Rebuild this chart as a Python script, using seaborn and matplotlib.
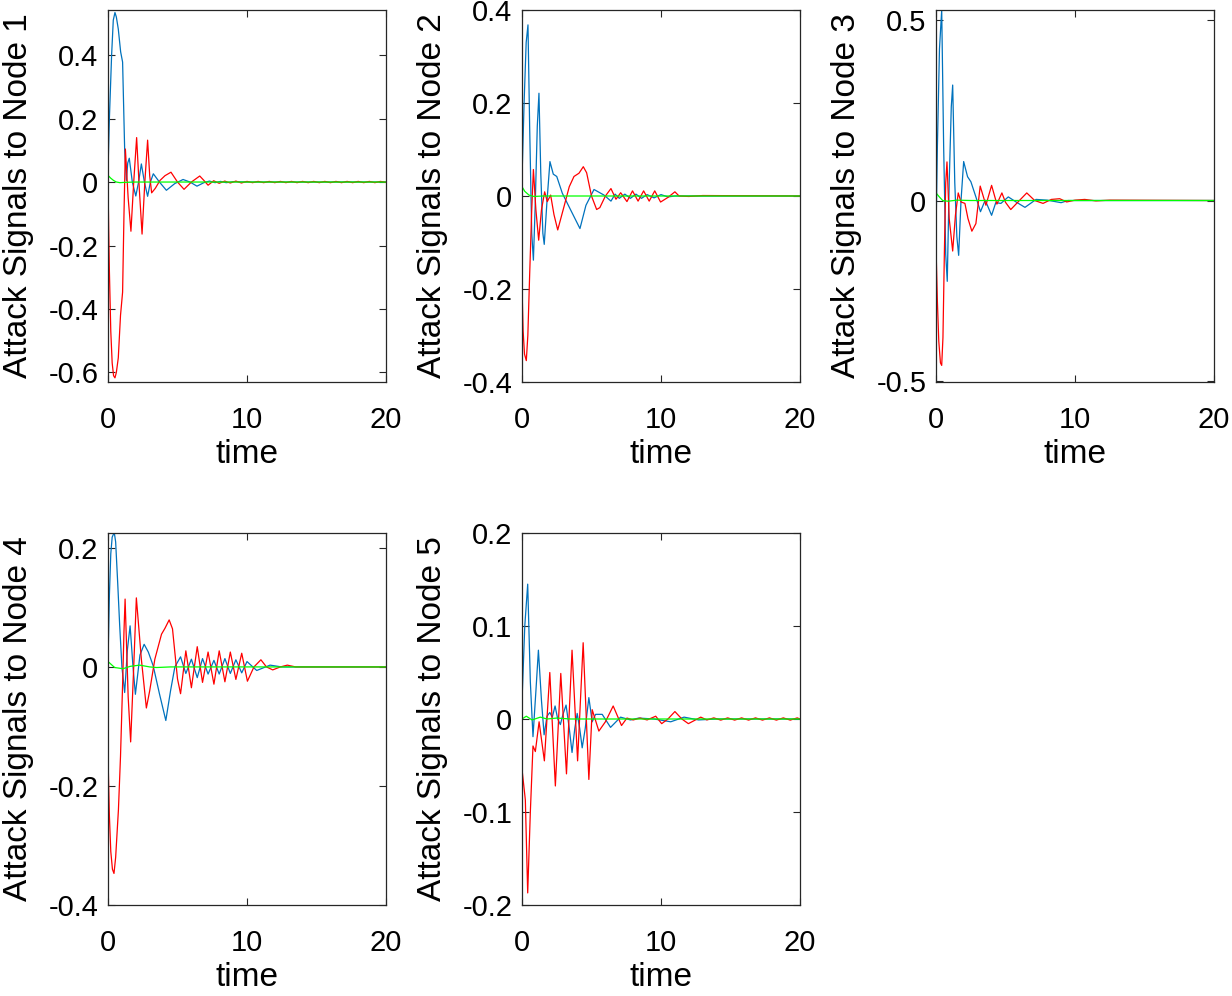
import matplotlib
matplotlib.use("Agg")
import matplotlib.pyplot as plt
import matplotlib.ticker as mticker
import seaborn as sns
import pandas as pd

# node 1
n1_blue_t = [0, 0.1, 0.26, 0.38, 0.5, 0.6, 0.74, 0.91, 1.05, 1.2, 1.32, 1.42, 1.53, 1.75, 2.0, 2.2, 2.4, 2.62, 2.85, 3.05, 3.26, 3.7, 4.2, 4.8, 5.4, 5.9, 6.4, 6.9, 7.3, 7.7, 8.1, 8.5, 9.0, 10, 20]
n1_blue_v = [0.036, 0.2, 0.4, 0.51, 0.534, 0.52, 0.482, 0.41, 0.378, 0.1, 0.005, 0.06, 0.075, 0.0, -0.044, 0.0, 0.057, 0.0, -0.045, 0.0, 0.026, 0.0, -0.026, -0.005, 0.008, 0.0, -0.013, -0.002, 0.003, -0.002, 0.002, -0.002, 0.001, 0, 0]
n1_red_t = [0, 0.05, 0.1, 0.2, 0.3, 0.4, 0.5, 0.6, 0.74, 0.9, 1.05, 1.15, 1.25, 1.45, 1.65, 1.85, 2.06, 2.25, 2.45, 2.65, 2.85, 3.0, 3.14, 3.4, 3.74, 4.1, 4.53, 5.0, 5.47, 6.0, 6.6, 6.9, 7.2, 7.6,
            8.0, 8.4, 8.8, 9.2, 9.6, 10.0, 10.4, 10.8, 11.2, 11.6, 12.0, 12.4, 12.8, 13.2, 13.6, 14.0, 14.4, 14.8, 15.2, 15.6, 16.0, 16.4, 16.8, 17.2, 17.6, 18.0, 18.4, 18.8, 19.2, 19.6, 20.0]
n1_red_v = [0.0, -0.15, -0.28, -0.47, -0.57, -0.61, -0.617, -0.6, -0.554, -0.42, -0.347, -0.1, 0.104, -0.05, -0.155, 0.0, 0.14, -0.02, -0.164, 0.0, 0.132, 0.02, -0.034, -0.02, 0.005, 0.02, 0.031, 0.0, -0.023, 0.0, 0.019, 0.005, -0.01, 0.004,
            -0.004, 0.003, -0.003, 0.003, -0.003, 0.002, -0.002, 0.002, -0.002, 0.002, -0.002, 0.002, -0.002, 0.002, -0.002, 0.002, -0.002, 0.002, -0.002, 0.002, -0.002, 0.002, -0.002, 0.002, -0.002, 0.002, -0.002, 0.002, -0.002, 0.002, -0.001]
n1_green_t = [0, 0.2, 0.4, 0.6, 0.86, 1.2, 2, 20]
n1_green_v = [0.021, 0.012, 0.005, 0.0, -0.002, -0.001, 0.0, 0.0]

# node 2
n2_blue_t = [0, 0.15, 0.3, 0.43, 0.55, 0.7, 0.82, 0.95, 1.1, 1.22, 1.35, 1.5, 1.6, 1.8, 2.01, 2.25, 2.5, 2.9, 3.5, 4.17, 4.6, 5.18, 5.9, 6.4, 6.7, 7.0, 7.4, 7.8, 8.2, 8.6, 9.0, 9.5, 10.0, 10.5, 11.0, 20]
n2_blue_v = [0.038, 0.2, 0.33, 0.368, 0.15, -0.08, -0.138, -0.02, 0.15, 0.221, 0.05, -0.08, -0.104, -0.01, 0.074, 0.047, 0.042, 0.006, -0.03, -0.07, -0.02, 0.014, 0.002, -0.011, 0.004, -0.005, 0.004, -0.005, 0.004, -0.005, 0.003, -0.004, 0.003, -0.002, 0.0, 0.0]
n2_red_t = [0, 0.08, 0.18, 0.31, 0.42, 0.55, 0.7, 0.82, 1.0, 1.2, 1.4, 1.63, 1.82, 2.06, 2.3, 2.57, 3.02, 3.4, 3.74, 4.1, 4.41, 4.65, 5.0, 5.37, 5.6, 6.0, 6.4, 6.76, 7.1, 7.55, 7.95, 8.35, 8.75, 9.15, 9.55, 9.97, 10.5, 11.0, 11.3, 12, 13, 20]
n2_red_v = [-0.196, -0.29, -0.34, -0.354, -0.3, -0.17, -0.03, 0.057, -0.03, -0.095, -0.03, 0.009, -0.012, 0.002, -0.04, -0.073, -0.023, 0.02, 0.042, 0.049, 0.063, 0.05, 0.0, -0.029, -0.025, 0.0, 0.016, -0.007, 0.007, -0.012, 0.011, -0.011, 0.011, -0.011, 0.011, -0.013, -0.003, 0.009, 0.0, -0.001, 0.001, 0.0]
n2_green_t = [0, 0.2, 0.5, 0.86, 1.5, 20]
n2_green_v = [0.02, 0.01, 0.002, -0.001, 0.0, 0.0]

# node 3
n3_blue_t = [0, 0.1, 0.25, 0.41, 0.55, 0.7, 0.81, 0.95, 1.1, 1.2, 1.35, 1.5, 1.63, 1.8, 1.99, 2.27, 2.51, 2.87, 3.2, 3.54, 4.0, 4.3, 4.67, 5.2, 5.8, 6.4, 7.2, 8.0, 9.0, 9.5, 20]
n3_blue_v = [-0.09, 0.15, 0.42, 0.528, 0.15, -0.15, -0.224, 0.05, 0.26, 0.32, 0.05, -0.1, -0.152, 0.0, 0.108, 0.066, 0.052, 0.01, -0.031, 0.001, -0.041, -0.006, -0.008, 0.01, -0.005, -0.019, 0.003, 0.001, -0.006, 0.0, 0.0]
n3_red_t = [0, 0.1, 0.2, 0.32, 0.41, 0.5, 0.6, 0.7, 0.79, 0.95, 1.2, 1.4, 1.6, 1.8, 2.08, 2.3, 2.58, 2.87, 3.18, 3.59, 4.0, 4.38, 4.74, 5.0, 5.38, 6.0, 6.53, 7.1, 7.7, 8.3, 8.9, 9.4, 10.0, 10.7, 11.5, 12.5, 20]
n3_red_v = [-0.128, -0.28, -0.39, -0.45, -0.457, -0.38, -0.15, 0.05, 0.107, -0.05, -0.14, -0.04, 0.021, -0.004, -0.008, -0.05, -0.085, -0.064, 0.04, -0.013, 0.042, -0.01, 0.021, -0.005, -0.025, 0.0, 0.021, 0.0, -0.008, 0.003, 0.005, -0.004, 0.001, 0.003, -0.001, 0.001, 0.0]
n3_green_t = [0, 0.24, 0.48, 0.85, 1.5, 2.5, 20]
n3_green_v = [0.021, 0.01, 0.0, -0.002, 0.001, 0.0, 0.0]

# node 4
n4_blue_t = [0, 0.1, 0.2, 0.3, 0.45, 0.55, 0.7, 0.84, 1.0, 1.2, 1.4, 1.59, 1.8, 1.97, 2.3, 2.6, 2.9, 3.25, 3.7, 4.16, 4.5, 4.81, 5.22, 5.6, 6.0, 6.42, 6.8, 7.2, 7.62, 8.0, 8.41, 8.8, 9.2, 9.62, 10.0, 10.7, 11.66, 12.5, 20]
n4_blue_v = [0.007, 0.12, 0.19, 0.218, 0.226, 0.21, 0.14, 0.07, 0.0, -0.043, 0.03, 0.069, 0.0, -0.046, 0.02, 0.038, 0.025, 0.002, -0.045, -0.09, -0.04, 0.0, 0.017, -0.011, 0.013, -0.018, 0.014, -0.012, 0.011, -0.012, 0.014, -0.011, 0.012, -0.01, 0.009, -0.006, 0.003, 0.0, 0.0]
n4_red_t = [0, 0.1, 0.2, 0.32, 0.43, 0.55, 0.6, 0.75, 0.9, 1.05, 1.15, 1.23, 1.45, 1.63, 1.85, 2.04, 2.4, 2.76, 3.0, 3.37, 3.85, 4.1, 4.4, 4.64, 5.0, 5.22, 5.6, 6.0, 6.42, 6.8, 7.2, 7.62, 8.0, 8.41, 8.8, 9.2, 9.62, 10.03, 10.5, 11.0, 11.4, 11.85, 12.4, 12.9, 13.5, 20]
n4_red_v = [-0.15, -0.25, -0.31, -0.34, -0.347, -0.32, -0.3, -0.24, -0.15, -0.03, 0.06, 0.114, -0.05, -0.126, 0.0, 0.116, 0.013, -0.069, -0.04, 0.013, 0.055, 0.065, 0.079, 0.064, -0.02, -0.045, 0.027, -0.035, 0.034, -0.026, 0.025, -0.029, 0.027, -0.025, 0.025, -0.021, 0.023, -0.024, 0.0, 0.012, 0.0, -0.005, 0.0, 0.003, 0.0, 0.0]
n4_green_t = [0, 0.48, 1.08, 1.6, 2.28, 3.0, 3.5, 4.5, 20]
n4_green_v = [0.009, -0.001, -0.003, 0.001, 0.003, 0.0, -0.001, 0.0, 0.0]

# node 5
n5_blue_t = [0, 0.2, 0.41, 0.6, 0.79, 1.0, 1.18, 1.4, 1.59, 1.8, 2.0, 2.18, 2.38, 2.57, 2.76, 2.95, 3.17, 3.4, 3.6, 3.8, 3.97, 4.15, 4.33, 4.55, 4.81, 5.05, 5.29, 5.77, 6.37, 7.09, 7.8, 8.4, 9.5, 10.7, 11.66, 12.7, 14, 20]
n5_blue_v = [0.019, 0.1, 0.145, 0.04, -0.019, 0.03, 0.074, 0.02, -0.017, 0.003, 0.007, 0.002, 0.014, 0.0, -0.006, 0.005, 0.015, -0.01, -0.036, -0.01, 0.006, -0.01, -0.031, -0.01, 0.023, -0.003, 0.005, 0.005, -0.009, 0.002, -0.001, 0.001, 0.0, -0.003, 0.002, -0.001, 0.0, 0.0]
n5_red_t = [0, 0.24, 0.41, 0.6, 0.79, 0.96, 1.23, 1.61, 2.0, 2.4, 2.79, 3.2, 3.6, 4.0, 4.4, 4.81, 5.05, 5.53, 6.0, 6.56, 7.16, 7.55, 8.0, 8.5, 9.0, 9.62, 10.05, 10.5, 11.0, 11.5, 11.97, 12.86, 13.3,
            13.8, 14.3, 14.8, 15.3, 15.8, 16.3, 16.8, 17.3, 17.8, 18.3, 18.8, 19.3, 19.8, 20]
n5_red_v = [-0.054, -0.087, -0.187, -0.1, -0.029, -0.035, -0.003, -0.045, 0.05, -0.072, 0.049, -0.059, 0.074, -0.045, 0.082, -0.065, 0.01, -0.013, -0.003, 0.014, -0.007, 0.001, -0.001, 0.001, -0.001, 0.003, -0.005, 0.0, 0.008, 0.0, -0.005, 0.002, -0.001,
            0.0012, -0.0012, 0.0012, -0.0012, 0.0012, -0.0012, 0.0012, -0.0012, 0.0012, -0.0012, 0.0012, -0.0012, 0.0012, 0.0]
n5_green_t = [0, 0.31, 0.72, 1.32, 1.8, 2.5, 3.5, 20]
n5_green_v = [0.0, 0.003, -0.001, 0.002, 0.0, 0.001, 0.0, 0.0]

node_labels = ["Attack Signals to Node 1", "Attack Signals to Node 2", "Attack Signals to Node 3",
               "Attack Signals to Node 4", "Attack Signals to Node 5"]
y_limits = [(-0.63, 0.542), (-0.4, 0.4), (-0.503, 0.528), (-0.4, 0.225), (-0.2, 0.2)]
y_ticks = [[-0.6, -0.4, -0.2, 0, 0.2, 0.4], [-0.4, -0.2, 0, 0.2, 0.4], [-0.5, 0, 0.5],
           [-0.4, -0.2, 0, 0.2], [-0.2, -0.1, 0, 0.1, 0.2]]
x_ticks = [0, 10, 20]

curves = [
    [(n1_blue_t, n1_blue_v), (n1_red_t, n1_red_v), (n1_green_t, n1_green_v)],
    [(n2_blue_t, n2_blue_v), (n2_red_t, n2_red_v), (n2_green_t, n2_green_v)],
    [(n3_blue_t, n3_blue_v), (n3_red_t, n3_red_v), (n3_green_t, n3_green_v)],
    [(n4_blue_t, n4_blue_v), (n4_red_t, n4_red_v), (n4_green_t, n4_green_v)],
    [(n5_blue_t, n5_blue_v), (n5_red_t, n5_red_v), (n5_green_t, n5_green_v)],
]
colors = ["#0072BD", "#FF0000", "#00FF00"]

sns.set_style("ticks")
plt.rcParams["font.family"] = ["Liberation Sans", "DejaVu Sans"]
plt.rcParams["axes.unicode_minus"] = False
plt.rcParams["text.color"] = "black"
plt.rcParams["axes.labelcolor"] = "black"

fig = plt.figure(figsize=(12.32, 9.96), dpi=100)
W, H = 1232, 996
# axes boxes in pixels: left, top
boxes = [(108, 10), (522, 10), (936, 10), (108, 533), (522, 533)]
aw, ah = 278, 372

for i, (left, top) in enumerate(boxes):
    ax = fig.add_axes([left / W, (H - top - ah) / H, aw / W, ah / H])
    for (t, v), c in zip(curves[i], colors):
        df = pd.DataFrame({"time": t, "val": v})
        sns.lineplot(data=df, x="time", y="val", color=c, lw=0.9, ax=ax,
                     estimator=None, sort=False)
    ax.set_xlim(0, 20)
    ax.set_ylim(*y_limits[i])
    ax.set_xticks(x_ticks)
    ax.set_yticks(y_ticks[i])
    ax.yaxis.set_major_formatter(mticker.FuncFormatter(lambda x, p: "%g" % x))
    ax.tick_params(direction="in", length=5, width=0.8, labelsize=21, top=True, right=True,
                   colors="#262626", labelcolor="black")
    ax.tick_params(axis="y", pad=7)
    ax.tick_params(axis="x", pad=17)
    for s in ax.spines.values():
        s.set_linewidth(0.9)
        s.set_color("#262626")
    ax.set_xlabel("time", fontsize=24, labelpad=4)
    ax.set_ylabel(node_labels[i], fontsize=24, labelpad=10)

fig.savefig("out.png", dpi=100)
